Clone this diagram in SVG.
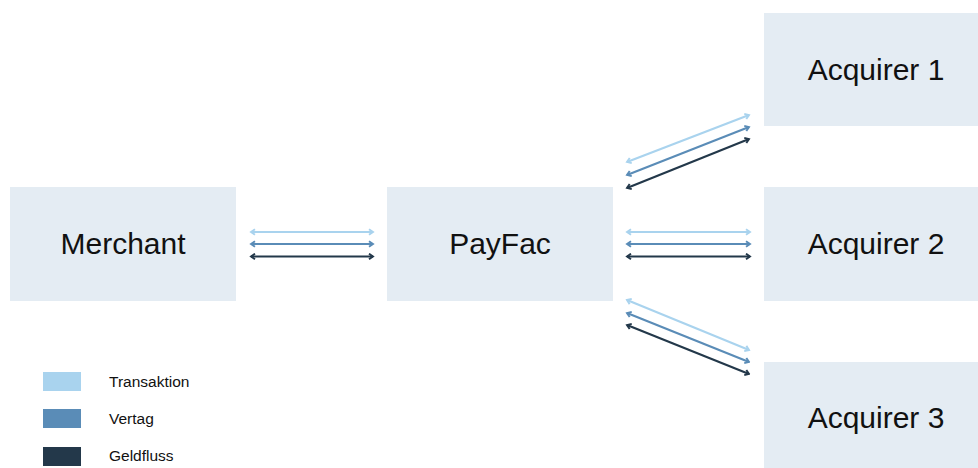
<svg xmlns="http://www.w3.org/2000/svg" width="978" height="468" viewBox="0 0 978 468">
<style>
.box{fill:#e4ecf3}
.lbl{font-family:"Liberation Sans",Arial,sans-serif;font-size:30px;fill:#111;text-anchor:middle}
.leg{font-family:"Liberation Sans",Arial,sans-serif;font-size:15.5px;fill:#111}
.c1{stroke:#a9d3ee;stroke-width:2.2;fill:none}
.c2{stroke:#5a8cb7;stroke-width:2.2;fill:none}
.c3{stroke:#23384a;stroke-width:2.2;fill:none}
</style>
<defs>
<marker id="m1" viewBox="0 0 10 10" refX="8" refY="5" markerWidth="8" markerHeight="8" orient="auto-start-reverse" markerUnits="userSpaceOnUse"><path d="M3,1.5 L8,5 L3,8.5" fill="none" stroke="#a9d3ee" stroke-width="2.4"/></marker>
<marker id="m2" viewBox="0 0 10 10" refX="8" refY="5" markerWidth="8" markerHeight="8" orient="auto-start-reverse" markerUnits="userSpaceOnUse"><path d="M3,1.5 L8,5 L3,8.5" fill="none" stroke="#5a8cb7" stroke-width="2.4"/></marker>
<marker id="m3" viewBox="0 0 10 10" refX="8" refY="5" markerWidth="8" markerHeight="8" orient="auto-start-reverse" markerUnits="userSpaceOnUse"><path d="M3,1.5 L8,5 L3,8.5" fill="none" stroke="#23384a" stroke-width="2.4"/></marker>
</defs>
<rect width="978" height="468" fill="#ffffff"/>
<g id="merchant"><rect class="box" x="10" y="187" width="226" height="114"/><text class="lbl" x="123" y="254">Merchant</text></g>
<g id="payfac"><rect class="box" x="387" y="187" width="226" height="114"/><text class="lbl" x="500" y="254">PayFac</text></g>
<g id="acquirer1"><rect class="box" x="764" y="13" width="214" height="113"/><text class="lbl" x="876" y="80">Acquirer 1</text></g>
<g id="acquirer2"><rect class="box" x="764" y="187" width="214" height="114"/><text class="lbl" x="876" y="254">Acquirer 2</text></g>
<g id="acquirer3"><rect class="box" x="764" y="362" width="214" height="106"/><text class="lbl" x="876" y="428">Acquirer 3</text></g>
<g id="connectors">
<line class="c1" x1="251" y1="232" x2="373" y2="232" marker-start="url(#m1)" marker-end="url(#m1)"/>
<line class="c2" x1="251" y1="244" x2="373" y2="244" marker-start="url(#m2)" marker-end="url(#m2)"/>
<line class="c3" x1="251" y1="256.5" x2="373" y2="256.5" marker-start="url(#m3)" marker-end="url(#m3)"/>
<line class="c1" x1="627" y1="232" x2="750" y2="232" marker-start="url(#m1)" marker-end="url(#m1)"/>
<line class="c2" x1="627" y1="244" x2="750" y2="244" marker-start="url(#m2)" marker-end="url(#m2)"/>
<line class="c3" x1="627" y1="256.5" x2="750" y2="256.5" marker-start="url(#m3)" marker-end="url(#m3)"/>
<line class="c1" x1="627" y1="162" x2="749" y2="115" marker-start="url(#m1)" marker-end="url(#m1)"/>
<line class="c2" x1="627" y1="175" x2="749" y2="127" marker-start="url(#m2)" marker-end="url(#m2)"/>
<line class="c3" x1="627" y1="188" x2="749" y2="139" marker-start="url(#m3)" marker-end="url(#m3)"/>
<line class="c1" x1="627" y1="300" x2="749" y2="350" marker-start="url(#m1)" marker-end="url(#m1)"/>
<line class="c2" x1="627" y1="313" x2="749" y2="362" marker-start="url(#m2)" marker-end="url(#m2)"/>
<line class="c3" x1="627" y1="325" x2="749" y2="374" marker-start="url(#m3)" marker-end="url(#m3)"/>
</g>
<g id="legend">
<rect x="43" y="372" width="38" height="19" fill="#a9d3ee"/>
<rect x="43" y="409" width="38" height="19" fill="#5a8cb7"/>
<rect x="43" y="447" width="38" height="19" fill="#23384a"/>
<text class="leg" x="109" y="387">Transaktion</text>
<text class="leg" x="109" y="424">Vertag</text>
<text class="leg" x="109" y="461">Geldfluss</text>
</g>
</svg>
